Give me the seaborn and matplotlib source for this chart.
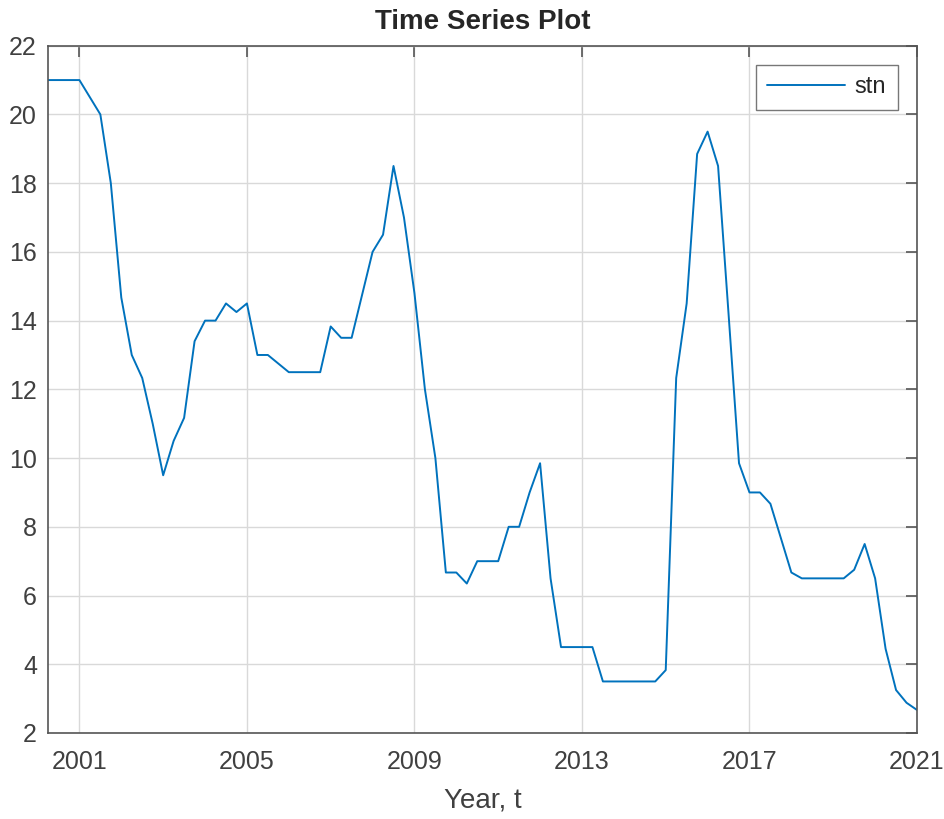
import numpy as np
import pandas as pd
import matplotlib
matplotlib.use("Agg")
import matplotlib.pyplot as plt
import seaborn as sns

# Quarterly observations, 2000 Q2 (2000.25) .. 2021 Q1 (2021.0)
start_year = 2000.25
end_year = 2021.0
stn = [
    21, 21, 21,                      # 2000.25 - 2000.75
    21, 20.5, 20, 18,                # 2001
    14.67, 13, 12.33, 11,            # 2002
    9.5, 10.5, 11.17, 13.4,          # 2003
    14, 14, 14.5, 14.25,             # 2004
    14.5, 13, 13, 12.75,             # 2005
    12.5, 12.5, 12.5, 12.5,          # 2006
    13.83, 13.5, 13.5, 14.75,        # 2007
    16, 16.5, 18.5, 17,              # 2008
    14.8, 12, 10, 6.67,              # 2009
    6.67, 6.35, 7, 7,                # 2010
    7, 8, 8, 9,                      # 2011
    9.85, 6.5, 4.5, 4.5,             # 2012
    4.5, 4.5, 3.5, 3.5,              # 2013
    3.5, 3.5, 3.5, 3.5,              # 2014
    3.83, 12.33, 14.5, 18.85,        # 2015
    19.5, 18.5, 14.2, 9.85,          # 2016
    9, 9, 8.67, 7.67,                # 2017
    6.67, 6.5, 6.5, 6.5,             # 2018
    6.5, 6.5, 6.75, 7.5,             # 2019
    6.5, 4.45, 3.25, 2.88,           # 2020
    2.67,                            # 2021
]
x_ticks = [2001, 2005, 2009, 2013, 2017, 2021]
y_ticks = [2, 4, 6, 8, 10, 12, 14, 16, 18, 20, 22]
series_name = "stn"

t = np.arange(start_year, end_year + 0.001, 0.25)
df = pd.DataFrame({"t": t, series_name: stn})

sns.set_style("white")
plt.rcParams["font.family"] = ["Liberation Sans", "DejaVu Sans"]

dark = "#262626"
mid = "#404040"
axcol = "#555555"
fig = plt.figure(figsize=(9.45, 8.19), dpi=100)
ax = fig.add_axes([48 / 945, 1 - 733 / 819, (917 - 48) / 945, (733 - 45.7) / 819])

sns.lineplot(data=df, x="t", y=series_name, ax=ax, color="#0072BD",
             linewidth=1.4, label=series_name)

ax.set_xlim(start_year, end_year)
ax.set_ylim(2, 22)
ax.set_xticks(x_ticks)
ax.set_yticks(y_ticks)
ax.set_xticklabels([str(v) for v in x_ticks])

ax.grid(True, color="#d9d9d9", linewidth=1.0)
ax.set_axisbelow(True)
for s in ax.spines.values():
    s.set_visible(True)
    s.set_color(axcol)
    s.set_linewidth(1.2)

ax.tick_params(axis="both", direction="in", length=8, width=1.2, color=axcol,
               labelcolor=mid, labelsize=18, top=True, right=True)
ax.tick_params(axis="x", pad=12)
ax.tick_params(axis="y", pad=8)

ax.set_xlabel("Year, t", fontsize=20, color=mid, labelpad=10)
ax.set_ylabel("")
ax.set_title("Time Series Plot", fontsize=20, fontweight="bold", color=dark, pad=12)

leg = ax.legend(loc="upper right", fontsize=17, frameon=True, fancybox=False,
                handlelength=3.3, borderaxespad=0.8, handletextpad=0.4,
                borderpad=0.5)
leg.get_frame().set_edgecolor(axcol)
leg.get_frame().set_linewidth(1.0)
for txt in leg.get_texts():
    txt.set_color(dark)

fig.savefig("out.png", dpi=100)
